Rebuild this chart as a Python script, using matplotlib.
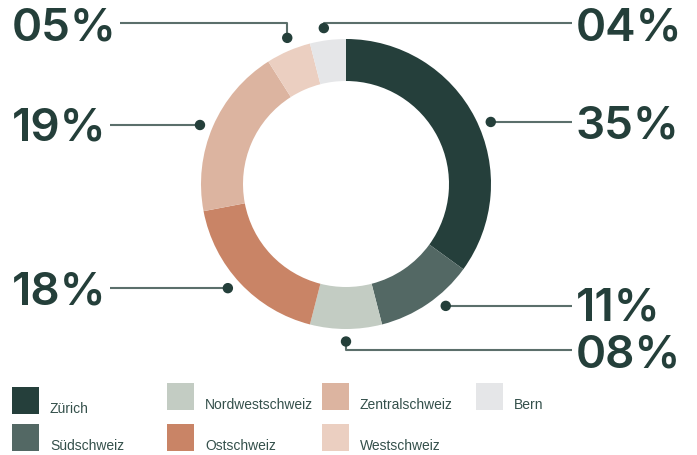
import numpy as np
import matplotlib
matplotlib.use("Agg")
import matplotlib.pyplot as plt
from matplotlib.patches import Rectangle, Circle

regions = ["Zürich", "Südschweiz", "Nordwestschweiz", "Ostschweiz",
           "Zentralschweiz", "Westschweiz", "Bern"]
shares = [35, 11, 8, 18, 19, 5, 4]
labels = ["35%", "11%", "08%", "18%", "19%", "05%", "04%"]
colors = ["#253f3b", "#536864", "#c3ccc3", "#c98466", "#dcb4a0", "#ebcfc1", "#e5e6e8"]

W, H = 697, 455
fig = plt.figure(figsize=(W / 100, H / 100), dpi=100)
ax = fig.add_axes([0, 0, 1, 1])

cx, cy, R, ring = 346, 184, 145, 42
ax.pie(shares, colors=colors, startangle=270, counterclock=True,
       center=(cx, cy), radius=R, frame=True,
       wedgeprops=dict(width=ring, linewidth=0))
ax.set_xlim(0, W)
ax.set_ylim(H, 0)
ax.set_aspect("equal")
ax.axis("off")

text_col = "#243f3a"
line_col = "#5b6f6b"
font = dict(family=["Inter", "DejaVu Sans"], weight=600,
            fontsize=33, color=text_col)

# anchor dots near each wedge's mid-angle (visual, clockwise from top)
cum = np.cumsum([0] + shares)
mids = (cum[:-1] + cum[1:]) / 2 / sum(shares) * 360.0
nudge = {"35%": 3.8, "11%": -5.1, "08%": 0, "18%": 1.8, "19%": -1.4,
         "05%": 1.5, "04%": -0.9}
rdot = 157.5

# label layout: (side, elbow line y or None)
layout = {
    "35%": ("R", None),
    "11%": ("R", None),
    "08%": ("R", 350),
    "18%": ("L", None),
    "19%": ("L", None),
    "05%": ("L", 22.5),
    "04%": ("R", 22.5),
}
text_dy = {"35%": 5, "11%": 3, "08%": 5, "18%": 4, "19%": 4, "05%": 6, "04%": 6}

for lab, m in zip(labels, mids):
    a = np.radians(m + nudge[lab])
    dx, dy = cx + rdot * np.sin(a), cy - rdot * np.cos(a)
    side, ly = layout[lab]
    if ly is None:
        ly = dy
    if side == "R":
        xend = 572
        tx, ha = 576, "left"
    else:
        xend = 120 if lab == "05%" else 110
        tx, ha = xend - 3, "right"
    ax.plot([dx, dx, xend], [dy, ly, ly], color=line_col, lw=1.5,
            solid_capstyle="butt", zorder=3)
    ax.add_patch(Circle((dx, dy), 4.5, color=text_col, zorder=4))
    ax.text(tx, ly + text_dy[lab], lab, ha=ha, va="center", **font)

# legend
leg_cols = [12, 167, 322, 476]
leg_items = [
    ("Zürich", 0, 387, 413),
    ("Nordwestschweiz", 1, 383, 409),
    ("Zentralschweiz", 2, 383, 409),
    ("Bern", 3, 383, 409),
    ("Südschweiz", 0, 424, 450),
    ("Ostschweiz", 1, 424, 450),
    ("Westschweiz", 2, 424, 450),
]
for name, col, ytop, base in leg_items:
    i = regions.index(name)
    x0 = leg_cols[col]
    ax.add_patch(Rectangle((x0, ytop), 27, 27, color=colors[i], lw=0))
    ax.text(x0 + 38, base, name, ha="left", va="baseline",
            family=["Liberation Sans", "DejaVu Sans"], fontsize=10,
            color="#34504b")

fig.savefig("out.png", dpi=100)
